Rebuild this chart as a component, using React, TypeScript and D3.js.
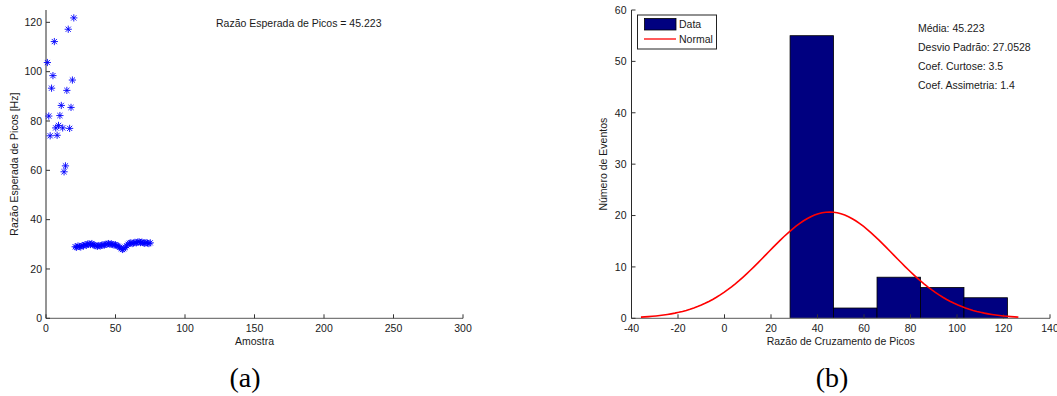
import React from "react";
import * as d3 from "d3";

// ---- Data ----
// Panel (a): expected peak rate per sample (sample index = position + 1)
const peakRates: number[] = [
  103.7, 82.0, 74.0, 93.3, 98.4, 112.2, 77.2, 74.2, 78.2, 82.2,
  86.3, 77.2, 59.4, 61.8, 92.4, 117.2, 77.0, 85.5, 96.6, 121.8,
  29.0, 28.8, 29.3, 29.1, 28.9, 29.5, 29.4, 29.8, 29.6, 30.1,
  30.2, 29.9, 30.3, 29.8, 29.6, 29.4, 29.2, 29.5, 29.3, 29.6,
  29.8, 29.7, 30.0, 30.1, 30.3, 30.0, 30.2, 29.9, 29.7, 29.8,
  29.5, 29.2, 28.8, 28.3, 27.9, 28.2, 28.7, 29.4, 30.0, 30.4,
  30.6, 30.3, 30.5, 30.8, 30.6, 30.9, 31.0, 30.7, 30.9, 30.6,
  30.4, 30.7, 30.5, 30.3, 30.6,
];
const xTicksA: number[] = [0, 50, 100, 150, 200, 250, 300];
const yTicksA: number[] = [0, 20, 40, 60, 80, 100, 120];

// Panel (b): histogram
const binEdges: number[] = [28.2, 46.9, 65.6, 84.3, 103.0, 121.7];
const binCounts: number[] = [55, 2, 8, 6, 4];
const xTicksB: number[] = [-40, -20, 0, 20, 40, 60, 80, 100, 120, 140];
const yTicksB: number[] = [0, 10, 20, 30, 40, 50, 60];
const fitMean = 45.223;
const fitStd = 27.0528;
const statLines: string[] = [
  "Média: 45.223",
  "Desvio Padrão: 27.0528",
  "Coef. Curtose: 3.5",
  "Coef. Assimetria: 1.4",
];

const FONT = "'Liberation Sans', Arial, Helvetica, sans-serif";
const FS = 10.5;
const TXT = "#1a1a1a";

function starPath(s: number): string {
  const a = s * 0.72;
  return `M${-s},0H${s}M0,${-s}V${s}M${-a},${-a}L${a},${a}M${-a},${a}L${a},${-a}`;
}

export default function App() {
  // Panel (a) scales
  const xA = d3.scaleLinear().domain([0, 300]).range([46, 463]);
  const yA = d3.scaleLinear().domain([0, 125]).range([318.3, 10]);
  // Panel (b) scales
  const xB = d3.scaleLinear().domain([-40, 140]).range([631.5, 1050]);
  const yB = d3.scaleLinear().domain([0, 60]).range([318.3, 10]);

  const N = binCounts.reduce((a, b) => a + b, 0);
  const binW = (binEdges[binEdges.length - 1] - binEdges[0]) / binCounts.length;
  const lo = fitMean - 3 * fitStd;
  const hi = fitMean + 3 * fitStd;
  const curvePts: [number, number][] = d3.range(0, 101).map((i) => {
    const x = lo + ((hi - lo) * i) / 100;
    const z = (x - fitMean) / fitStd;
    const y = (N * binW * Math.exp(-0.5 * z * z)) / (fitStd * Math.sqrt(2 * Math.PI));
    return [x, y];
  });
  const line = d3
    .line<[number, number]>()
    .x((d) => xB(d[0]))
    .y((d) => yB(d[1]))
    .curve(d3.curveLinear);

  const star = starPath(3.6);

  return (
    <svg
      width={1057}
      height={396}
      style={{ position: "absolute", left: 0, top: 0, background: "#fff" }}
      fontFamily={FONT}
    >
      <rect x={0} y={0} width={1057} height={396} fill="#fff" />

      {/* ===== Panel (a) ===== */}
      <g>
        {/* axes */}
        <line x1={xA(0)} x2={xA(300)} y1={yA(0)} y2={yA(0)} stroke="#7a7a7a" strokeWidth={1.3} />
        <line x1={xA(0)} x2={xA(0)} y1={yA(0)} y2={yA(125)} stroke="#2a2a2a" strokeWidth={1} />
        {xTicksA.map((t) => (
          <g key={"xa" + t}>
            <line x1={xA(t)} x2={xA(t)} y1={yA(0)} y2={yA(0) - 4} stroke="#333" />
            <text x={xA(t)} y={332} textAnchor="middle" fontSize={FS} fill={TXT}>
              {t}
            </text>
          </g>
        ))}
        {yTicksA.map((t) => (
          <g key={"ya" + t}>
            <line x1={xA(0)} x2={xA(0) + 4} y1={yA(t)} y2={yA(t)} stroke="#333" />
            <text x={xA(0) - 4} y={yA(t) + 3.8} textAnchor="end" fontSize={FS} fill={TXT}>
              {t}
            </text>
          </g>
        ))}
        {/* points */}
        {peakRates.map((v, i) => (
          <path
            key={"p" + i}
            d={star}
            transform={`translate(${xA(i + 1)},${yA(v)})`}
            stroke="#0000ff"
            strokeWidth={0.9}
            fill="none"
          />
        ))}
        {/* labels */}
        <text x={216} y={27} fontSize={FS} fill={TXT}>
          Razão Esperada de Picos = 45.223
        </text>
        <text x={(xA(0) + xA(300)) / 2} y={345} textAnchor="middle" fontSize={FS} fill={TXT}>
          Amostra
        </text>
        <text
          transform={`translate(18,${(yA(0) + yA(125)) / 2}) rotate(-90)`}
          textAnchor="middle"
          fontSize={FS}
          fill={TXT}
        >
          Razão Esperada de Picos [Hz]
        </text>
        <text
          x={245}
          y={387}
          textAnchor="middle"
          fontSize={28}
          fontFamily="'Liberation Serif', 'Times New Roman', serif"
          fill="#000"
        >
          (a)
        </text>
      </g>

      {/* ===== Panel (b) ===== */}
      <g>
        {/* bars */}
        {binCounts.map((c, i) => (
          <rect
            key={"b" + i}
            x={xB(binEdges[i])}
            width={xB(binEdges[i + 1]) - xB(binEdges[i])}
            y={yB(c)}
            height={yB(0) - yB(c)}
            fill="#000080"
            stroke="#000"
            strokeWidth={0.8}
          />
        ))}
        {/* axes */}
        <line x1={xB(-40)} x2={xB(140)} y1={yB(0)} y2={yB(0)} stroke="#7a7a7a" strokeWidth={1.3} />
        <line x1={xB(-40)} x2={xB(-40)} y1={yB(0)} y2={yB(60)} stroke="#2a2a2a" strokeWidth={1} />
        {xTicksB.map((t) => (
          <g key={"xb" + t}>
            <line x1={xB(t)} x2={xB(t)} y1={yB(0)} y2={yB(0) - 4} stroke="#333" />
            <text x={xB(t)} y={332} textAnchor="middle" fontSize={FS} fill={TXT}>
              {t}
            </text>
          </g>
        ))}
        {yTicksB.map((t) => (
          <g key={"yb" + t}>
            <line x1={xB(-40)} x2={xB(-40) + 4} y1={yB(t)} y2={yB(t)} stroke="#333" />
            <text x={xB(-40) - 5} y={yB(t) + 3.8} textAnchor="end" fontSize={FS} fill={TXT}>
              {t}
            </text>
          </g>
        ))}
        {/* normal fit */}
        <path d={line(curvePts) || ""} fill="none" stroke="#ff0000" strokeWidth={1.6} />
        {/* legend */}
        <rect x={637.5} y={15} width={79} height={34} fill="#fff" stroke="#222" strokeWidth={1} />
        <rect x={644.5} y={18.5} width={31.5} height={11.5} fill="#000080" stroke="#000" strokeWidth={0.8} />
        <text x={679} y={28} fontSize={FS} fill={TXT}>
          Data
        </text>
        <line x1={644} x2={676} y1={39} y2={39} stroke="#ff0000" strokeWidth={1.3} />
        <text x={679} y={43} fontSize={FS} fill={TXT}>
          Normal
        </text>
        {/* stats */}
        {statLines.map((s, i) => (
          <text key={"s" + i} x={918} y={31.5 + i * 19.3} fontSize={FS} fill={TXT}>
            {s}
          </text>
        ))}
        <text x={(xB(-40) + xB(140)) / 2} y={345} textAnchor="middle" fontSize={FS} fill={TXT}>
          Razão de Cruzamento de Picos
        </text>
        <text
          transform={`translate(607,${(yB(0) + yB(60)) / 2}) rotate(-90)`}
          textAnchor="middle"
          fontSize={FS}
          fill={TXT}
        >
          Número de Eventos
        </text>
        <text
          x={832}
          y={387}
          textAnchor="middle"
          fontSize={28}
          fontFamily="'Liberation Serif', 'Times New Roman', serif"
          fill="#000"
        >
          (b)
        </text>
      </g>
    </svg>
  );
}
